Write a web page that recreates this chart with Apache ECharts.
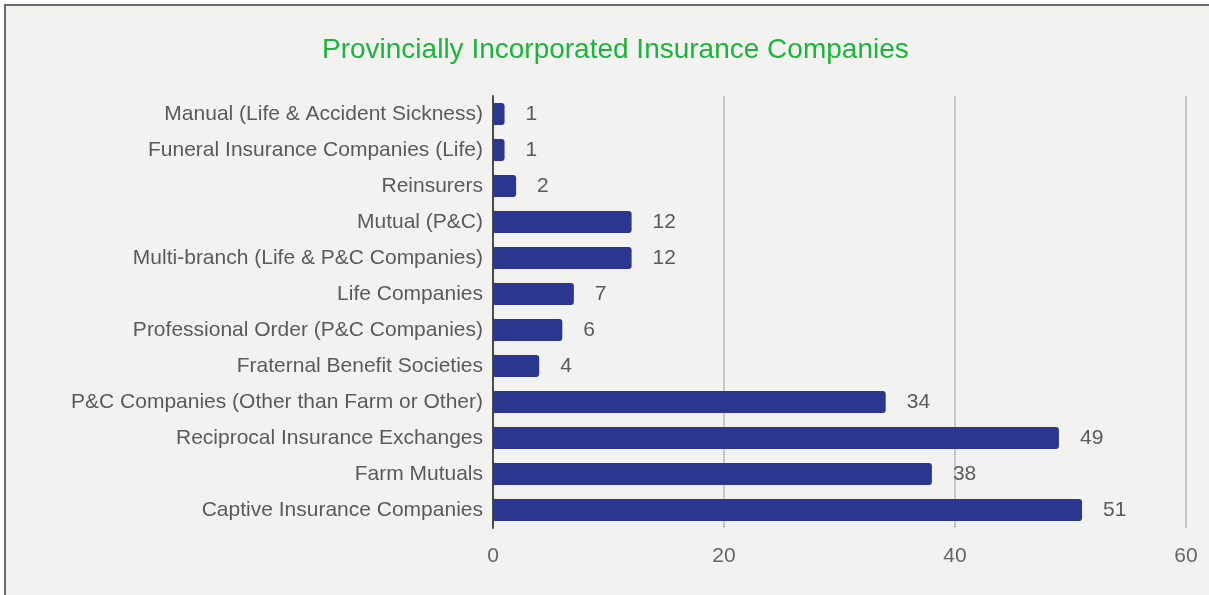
<!DOCTYPE html>
<html>
<head>
<meta charset="utf-8">
<script src="https://cdn.jsdelivr.net/npm/echarts@6/dist/echarts.min.js"></script>
<style>
  html, body { margin: 0; padding: 0; background: #ffffff; overflow: hidden; }
  #frame {
    position: absolute; left: 4px; top: 4px; width: 1205px; height: 591px;
    border-left: 2px solid #6a6a6a; border-top: 2px solid #6a6a6a;
    background: #f2f2f1;
  }
  #chart { width: 1203px; height: 589px; }
</style>
</head>
<body>
<div id="frame"><div id="chart"></div></div>
<script>
// Company types, listed top to bottom
const categories = [
  'Manual (Life & Accident Sickness)',
  'Funeral Insurance Companies (Life)',
  'Reinsurers',
  'Mutual (P&C)',
  'Multi-branch (Life & P&C Companies)',
  'Life Companies',
  'Professional Order (P&C Companies)',
  'Fraternal Benefit Societies',
  'P&C Companies (Other than Farm or Other)',
  'Reciprocal Insurance Exchanges',
  'Farm Mutuals',
  'Captive Insurance Companies'
];
// Number of companies per type
const counts = [1, 1, 2, 12, 12, 7, 6, 4, 34, 49, 38, 51];
const titleText = 'Provincially Incorporated Insurance Companies';

const chart = echarts.init(document.getElementById('chart'), null, { renderer: 'canvas' });
const font = 'Arial, "Liberation Sans", sans-serif';

chart.setOption({
  backgroundColor: '#f2f2f1',
  animation: false,
  title: {
    text: titleText,
    left: 311,
    top: 25,
    textStyle: { color: '#1eb33c', fontSize: 28, fontWeight: 'normal', fontFamily: font }
  },
  grid: { left: 487, right: 23, top: 90, bottom: 67, containLabel: false },
  xAxis: {
    type: 'value',
    min: 0, max: 60, interval: 20,
    axisLine: { show: false },
    axisTick: { show: false },
    axisLabel: { color: '#666666', fontSize: 21, fontFamily: font, margin: 18 },
    splitLine: {
      show: true,
      lineStyle: { color: ['transparent', '#c8c8c8', '#c8c8c8', '#c8c8c8'], width: 2 }
    }
  },
  yAxis: {
    type: 'category',
    inverse: true,
    data: categories,
    axisLine: { show: true, lineStyle: { color: '#4a4a4a', width: 2 } },
    axisTick: { show: false },
    axisLabel: { color: '#5a5a5a', fontSize: 21, fontFamily: font, margin: 10 }
  },
  series: [{
    type: 'bar',
    data: counts,
    barWidth: 22,
    itemStyle: { color: '#2b378e', borderRadius: [0, 3, 3, 0] },
    label: {
      show: true,
      position: 'right',
      distance: 21,
      color: '#5a5a5a',
      fontSize: 21,
      fontFamily: font
    }
  }]
});
</script>
</body>
</html>
